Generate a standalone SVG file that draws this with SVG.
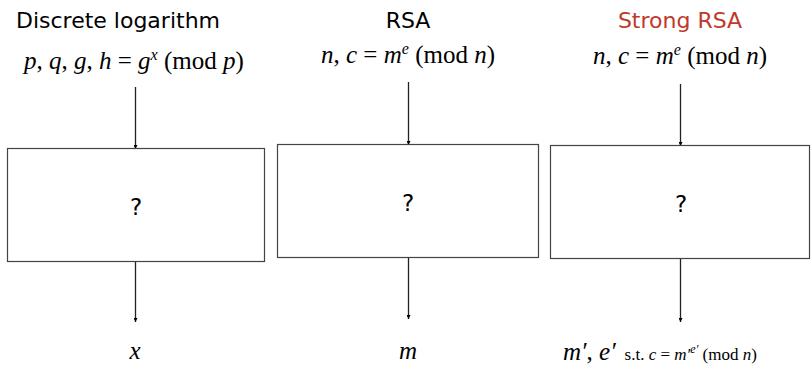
<svg xmlns="http://www.w3.org/2000/svg" width="811" height="367" viewBox="0 0 811 367">
<style>
.title{font-family:"DejaVu Sans","Liberation Sans",sans-serif;font-size:22px;fill:#000;text-anchor:middle}
.math{font-family:"Liberation Serif","DejaVu Serif",serif;font-size:25px;fill:#000}
.it{font-style:italic}
.box{fill:#fff;stroke:#444;stroke-width:1.2}
.q{font-family:"DejaVu Sans","Liberation Sans",sans-serif;font-size:23px;text-anchor:middle;fill:#000}
.conn{stroke:#222;stroke-width:1.3;fill:none;marker-end:url(#ah)}
</style>
<defs>
<marker id="ah" viewBox="0 0 6 6" refX="6" refY="3" markerWidth="4" markerHeight="4" orient="auto" markerUnits="userSpaceOnUse">
<path d="M0,0 L6,3 L0,6 Z" fill="#000"/>
</marker>
</defs>
<rect width="811" height="367" fill="#fff"/>
<g id="connectors">
<line class="conn" x1="135.5" y1="87" x2="135.5" y2="149"/>
<line class="conn" x1="135.5" y1="262" x2="135.5" y2="322"/>
<line class="conn" x1="408.5" y1="82" x2="408.5" y2="145"/>
<line class="conn" x1="408.5" y1="258" x2="408.5" y2="319"/>
<line class="conn" x1="680.5" y1="84" x2="680.5" y2="146"/>
<line class="conn" x1="680.5" y1="259" x2="680.5" y2="322"/>
</g>
<g id="dl">
<text class="title" x="118" y="28">Discrete logarithm</text>
<text class="math" x="24" y="69"><tspan class="it">p</tspan>, <tspan class="it">q</tspan>, <tspan class="it">g</tspan>, <tspan class="it">h</tspan> = <tspan class="it">g</tspan><tspan class="it" font-size="16" dy="-9">x</tspan><tspan dy="9"> (mod </tspan><tspan class="it">p</tspan>)</text>
<rect class="box" x="7.5" y="148.5" width="257" height="113"/>
<text class="q" x="136" y="215">?</text>
<text class="math it" x="135" y="359" text-anchor="middle">x</text>
</g>
<g id="rsa">
<text class="title" x="408" y="28">RSA</text>
<text class="math" x="408" y="63" text-anchor="middle"><tspan class="it">n</tspan>, <tspan class="it">c</tspan> = <tspan class="it">m</tspan><tspan class="it" font-size="16" dy="-9">e</tspan><tspan dy="9"> (mod </tspan><tspan class="it">n</tspan>)</text>
<rect class="box" x="277.5" y="144.5" width="261" height="113"/>
<text class="q" x="408" y="211">?</text>
<text class="math it" x="408" y="359" text-anchor="middle">m</text>
</g>
<g id="strong-rsa">
<text class="title" x="680" y="28" style="fill:#c0392b">Strong RSA</text>
<text class="math" x="680" y="64" text-anchor="middle"><tspan class="it">n</tspan>, <tspan class="it">c</tspan> = <tspan class="it">m</tspan><tspan class="it" font-size="16" dy="-9">e</tspan><tspan dy="9"> (mod </tspan><tspan class="it">n</tspan>)</text>
<rect class="box" x="550.5" y="145.5" width="259" height="113"/>
<text class="q" x="681" y="212">?</text>
<text class="math" x="563" y="360" font-size="27"><tspan class="it">m′</tspan>, <tspan class="it">e′</tspan><tspan font-size="17" dx="9">s.t. </tspan><tspan class="it" font-size="17">c</tspan><tspan font-size="17"> = </tspan><tspan class="it" font-size="17">m′</tspan><tspan class="it" font-size="12" dy="-7">e′</tspan><tspan font-size="17" dy="7"> (mod </tspan><tspan class="it" font-size="17">n</tspan><tspan font-size="17">)</tspan></text>
</g>
</svg>
